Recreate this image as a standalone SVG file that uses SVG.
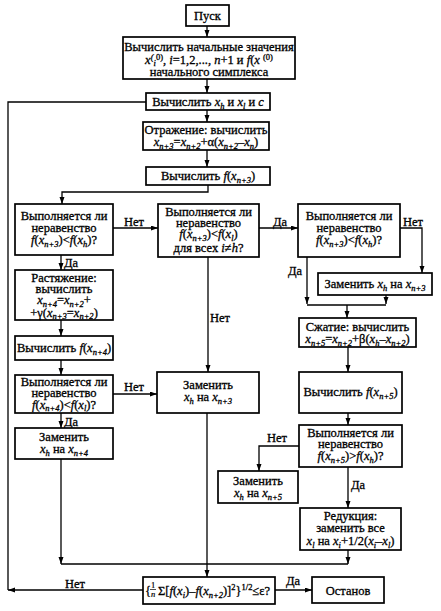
<svg xmlns="http://www.w3.org/2000/svg" width="441" height="611" viewBox="0 0 441 611" font-family="Liberation Serif, Times New Roman, serif">
<style>
.b{fill:#fff;stroke:#000;stroke-width:1.7}
.c{fill:none;stroke:#000;stroke-width:1.3}
.t{font-family:'Liberation Serif',serif;font-size:12.5px;text-anchor:middle;fill:#000;stroke:#000;stroke-width:0.3}
.l{font-family:'Liberation Serif',serif;font-size:12.5px;fill:#000;stroke:#000;stroke-width:0.3}
.i{font-style:italic}
.s{font-size:8.5px;font-style:italic}
.p{font-size:8.5px}
</style>
<defs>
<marker id="a" markerUnits="userSpaceOnUse" markerWidth="8" markerHeight="6" refX="7" refY="2.5" orient="auto">
<path d="M0,0 L7,2.5 L0,5 z" fill="#000"/>
</marker>
</defs>
<g id="connectors">
<path class="c" d="M207,26 V37" marker-end="url(#a)"/>
<path class="c" d="M207,79 V93" marker-end="url(#a)"/>
<path class="c" d="M207,110 V122" marker-end="url(#a)"/>
<path class="c" d="M207,150 V167" marker-end="url(#a)"/>
<path class="c" d="M208,185 V192 H62 V204" marker-end="url(#a)"/>
<path class="c" d="M113,228 H158" marker-end="url(#a)"/>
<path class="c" d="M259,228 H298" marker-end="url(#a)"/>
<path class="c" d="M400,228 H422 V273" marker-end="url(#a)"/>
<path class="c" d="M307,257 V304" marker-end="url(#a)"/>
<path class="c" d="M386,295 V304" marker-end="url(#a)"/>
<path class="c" d="M307,305 H386"/>
<path class="c" d="M347,305 V318" marker-end="url(#a)"/>
<path class="c" d="M348,347 V372" marker-end="url(#a)"/>
<path class="c" d="M348,413 V425" marker-end="url(#a)"/>
<path class="c" d="M299,446 H259 V471" marker-end="url(#a)"/>
<path class="c" d="M348,467 V508" marker-end="url(#a)"/>
<path class="c" d="M348,550 V564" marker-end="url(#a)"/>
<path class="c" d="M61,255 V270" marker-end="url(#a)"/>
<path class="c" d="M61,320 V336" marker-end="url(#a)"/>
<path class="c" d="M61,360 V375" marker-end="url(#a)"/>
<path class="c" d="M61,413 V428" marker-end="url(#a)"/>
<path class="c" d="M113,394 H157" marker-end="url(#a)"/>
<path class="c" d="M208,257 V372" marker-end="url(#a)"/>
<path class="c" d="M61,459 V564" marker-end="url(#a)"/>
<path class="c" d="M61,564 H348"/>
<path class="c" d="M207,413 V577" marker-end="url(#a)"/>
<path class="c" d="M275,590 H312" marker-end="url(#a)"/>
<path class="c" d="M143,590 H8" marker-end="url(#a)"/>
<path class="c" d="M8,590 V102 H146"/>
<text class="t" x="134" y="226">Нет</text>
<text class="t" x="280" y="226">Да</text>
<text class="t" x="413" y="226">Нет</text>
<text class="t" x="71" y="267">Да</text>
<text class="t" x="295" y="275">Да</text>
<text class="t" x="220" y="322">Нет</text>
<text class="t" x="134" y="391">Нет</text>
<text class="t" x="71" y="426">Да</text>
<text class="t" x="277" y="442">Нет</text>
<text class="t" x="358" y="489">Да</text>
<text class="t" x="75" y="588">Нет</text>
<text class="t" x="293" y="585">Да</text>
</g>
<g id="start">
<rect class="b" x="186" y="5" width="43" height="21"/>
<text class="t" x="207.5" y="20">Пуск</text>
</g>
<g id="init">
<rect class="b" x="123" y="37" width="172" height="42"/>
<text class="t" x="209" y="51">Вычислить начальные значения</text>
<text class="t" x="209" y="64"><tspan class="i">x</tspan><tspan class="s" dy="-4">(</tspan><tspan class="s" dy="6">i</tspan><tspan class="p" dy="-6">0)</tspan><tspan dy="4">, </tspan><tspan class="i">i</tspan>=1,2,..., <tspan class="i">n</tspan>+1 и <tspan class="i">f</tspan>(<tspan class="i">x</tspan> <tspan class="p" dy="-4">(0)</tspan></text>
<text class="t" x="209" y="76">начального симплекса</text>
</g>
<g id="calc-xh">
<rect class="b" x="146" y="93" width="124" height="17"/>
<text class="t" x="208" y="105.5">Вычислить <tspan class="i">x</tspan><tspan class="s" dy="3">h</tspan><tspan dy="-3"> и </tspan><tspan class="i">x</tspan><tspan class="s" dy="3">l</tspan><tspan dy="-3"> и </tspan><tspan class="i">c</tspan></text>
</g>
<g id="reflect">
<rect class="b" x="143" y="122" width="126" height="28"/>
<text class="t" x="206" y="134">Отражение: вычислить</text>
<text class="t" x="206" y="146"><tspan class="i">x</tspan><tspan class="s" dy="3">n+3</tspan><tspan dy="-3">=</tspan><tspan class="i">x</tspan><tspan class="s" dy="3">n+2</tspan><tspan dy="-3">+α(</tspan><tspan class="i">x</tspan><tspan class="s" dy="3">n+2</tspan><tspan dy="-3">–</tspan><tspan class="i">x</tspan><tspan class="s" dy="3">n</tspan><tspan dy="-3">)</tspan></text>
</g>
<g id="calc-f3">
<rect class="b" x="146" y="167" width="124" height="18"/>
<text class="t" x="208" y="180">Вычислить <tspan class="i">f</tspan>(<tspan class="i">x</tspan><tspan class="s" dy="3">n+3</tspan><tspan dy="-3">)</tspan></text>
</g>
<g id="dec-left">
<rect class="b" x="15" y="204" width="98" height="51"/>
<text class="t" x="64" y="220">Выполняется ли</text>
<text class="t" x="64" y="231.5">неравенство</text>
<text class="t" x="64" y="244"><tspan class="i">f</tspan>(<tspan class="i">x</tspan><tspan class="s" dy="3">n+3</tspan><tspan dy="-3">)&lt;</tspan><tspan class="i">f</tspan>(<tspan class="i">x</tspan><tspan class="s" dy="3">h</tspan><tspan dy="-3">)?</tspan></text>
</g>
<g id="dec-mid">
<rect class="b" x="158" y="204" width="101" height="53"/>
<text class="t" x="208.5" y="215.5">Выполняется ли</text>
<text class="t" x="208.5" y="226.5">неравенство</text>
<text class="t" x="208.5" y="238"><tspan class="i">f</tspan>(<tspan class="i">x</tspan><tspan class="s" dy="2.5">n+3</tspan><tspan dy="-2.5">)&lt;</tspan><tspan class="i">f</tspan>(<tspan class="i">x</tspan><tspan class="s" dy="2.5">l</tspan><tspan dy="-2.5">)</tspan></text>
<text class="t" x="208.5" y="251.5">для всех <tspan class="i">i</tspan>≠<tspan class="i">h</tspan>?</text>
</g>
<g id="dec-right">
<rect class="b" x="298" y="204" width="102" height="53"/>
<text class="t" x="349" y="220">Выполняется ли</text>
<text class="t" x="349" y="231.5">неравенство</text>
<text class="t" x="349" y="244"><tspan class="i">f</tspan>(<tspan class="i">x</tspan><tspan class="s" dy="3">n+3</tspan><tspan dy="-3">)&lt;</tspan><tspan class="i">f</tspan>(<tspan class="i">x</tspan><tspan class="s" dy="3">h</tspan><tspan dy="-3">)?</tspan></text>
</g>
<g id="replace-right">
<rect class="b" x="318" y="273" width="114" height="22"/>
<text class="t" x="375" y="288">Заменить <tspan class="i">x</tspan><tspan class="s" dy="3">h</tspan><tspan dy="-3"> на </tspan><tspan class="i">x</tspan><tspan class="s" dy="3">n+3</tspan></text>
</g>
<g id="contract">
<rect class="b" x="299" y="318" width="117" height="29"/>
<text class="t" x="357.5" y="331">Сжатие: вычислить</text>
<text class="t" x="357.5" y="343"><tspan class="i">x</tspan><tspan class="s" dy="3">n+5</tspan><tspan dy="-3">=</tspan><tspan class="i">x</tspan><tspan class="s" dy="3">n+2</tspan><tspan dy="-3">+β(</tspan><tspan class="i">x</tspan><tspan class="s" dy="3">h</tspan><tspan dy="-3">–</tspan><tspan class="i">x</tspan><tspan class="s" dy="3">n+2</tspan><tspan dy="-3">)</tspan></text>
</g>
<g id="calc-f5">
<rect class="b" x="299" y="372" width="103" height="41"/>
<text class="t" x="350.5" y="396">Вычислить <tspan class="i">f</tspan>(<tspan class="i">x</tspan><tspan class="s" dy="3">n+5</tspan><tspan dy="-3">)</tspan></text>
</g>
<g id="dec-f5">
<rect class="b" x="299" y="425" width="103" height="42"/>
<text class="t" x="350.5" y="437">Выполняется ли</text>
<text class="t" x="350.5" y="448">неравенство</text>
<text class="t" x="350.5" y="460"><tspan class="i">f</tspan>(<tspan class="i">x</tspan><tspan class="s" dy="3">n+5</tspan><tspan dy="-3">)&gt;</tspan><tspan class="i">f</tspan>(<tspan class="i">x</tspan><tspan class="s" dy="3">h</tspan><tspan dy="-3">)?</tspan></text>
</g>
<g id="replace-n5">
<rect class="b" x="218" y="471" width="80" height="32"/>
<text class="t" x="258" y="485">Заменить</text>
<text class="t" x="258" y="497"><tspan class="i">x</tspan><tspan class="s" dy="3">h</tspan><tspan dy="-3"> на </tspan><tspan class="i">x</tspan><tspan class="s" dy="3">n+5</tspan></text>
</g>
<g id="reduce">
<rect class="b" x="300" y="508" width="101" height="42"/>
<text class="t" x="350.5" y="519.5">Редукция:</text>
<text class="t" x="350.5" y="532">заменить все</text>
<text class="t" x="350.5" y="544.5"><tspan class="i">x</tspan><tspan class="s" dy="3">l</tspan><tspan dy="-3"> на </tspan><tspan class="i">x</tspan><tspan class="s" dy="3">i</tspan><tspan dy="-3">+1/2(</tspan><tspan class="i">x</tspan><tspan class="s" dy="3">i</tspan><tspan dy="-3">–</tspan><tspan class="i">x</tspan><tspan class="s" dy="3">l</tspan><tspan dy="-3">)</tspan></text>
</g>
<g id="expand">
<rect class="b" x="15" y="270" width="98" height="50"/>
<text class="t" x="64" y="281.5">Растяжение:</text>
<text class="t" x="64" y="292.5">вычислить</text>
<text class="t" x="64" y="304"><tspan class="i">x</tspan><tspan class="s" dy="2.5">n+4</tspan><tspan dy="-2.5">=</tspan><tspan class="i">x</tspan><tspan class="s" dy="2.5">n+2</tspan><tspan dy="-2.5">+</tspan></text>
<text class="t" x="64" y="316.5">+γ(<tspan class="i">x</tspan><tspan class="s" dy="2.5">n+3</tspan><tspan dy="-2.5">=</tspan><tspan class="i">x</tspan><tspan class="s" dy="2.5">n+2</tspan><tspan dy="-2.5">)</tspan></text>
</g>
<g id="calc-f4">
<rect class="b" x="15" y="336" width="98" height="24"/>
<text class="t" x="64" y="351.5">Вычислить <tspan class="i">f</tspan>(<tspan class="i">x</tspan><tspan class="s" dy="3">n+4</tspan><tspan dy="-3">)</tspan></text>
</g>
<g id="dec-f4">
<rect class="b" x="15" y="375" width="98" height="38"/>
<text class="t" x="64" y="386">Выполняется ли</text>
<text class="t" x="64" y="397">неравенство</text>
<text class="t" x="64" y="408.5"><tspan class="i">f</tspan>(<tspan class="i">x</tspan><tspan class="s" dy="2.5">n+4</tspan><tspan dy="-2.5">)&lt;</tspan><tspan class="i">f</tspan>(<tspan class="i">x</tspan><tspan class="s" dy="2.5">l</tspan><tspan dy="-2.5">)?</tspan></text>
</g>
<g id="replace-n4">
<rect class="b" x="15" y="428" width="98" height="31"/>
<text class="t" x="64" y="441">Заменить</text>
<text class="t" x="64" y="453"><tspan class="i">x</tspan><tspan class="s" dy="3">h</tspan><tspan dy="-3"> на </tspan><tspan class="i">x</tspan><tspan class="s" dy="3">n+4</tspan></text>
</g>
<g id="replace-mid">
<rect class="b" x="157" y="372" width="102" height="41"/>
<text class="t" x="208" y="389">Заменить</text>
<text class="t" x="208" y="401"><tspan class="i">x</tspan><tspan class="s" dy="3">h</tspan><tspan dy="-3"> на </tspan><tspan class="i">x</tspan><tspan class="s" dy="3">n+3</tspan></text>
</g>
<g id="check">
<rect class="b" x="143" y="577" width="132" height="27"/>
<text class="l" x="145" y="595">{</text>
<text class="t" x="153" y="588" style="font-size:8.5px;stroke-width:0.2">1</text>
<line x1="150" y1="589.5" x2="156" y2="589.5" stroke="#000" stroke-width="0.7"/>
<text class="t i" x="153" y="597" style="font-size:8.5px;stroke-width:0.2">n</text>
<text class="l" x="158" y="595">Σ[<tspan class="i">f</tspan>(<tspan class="i">x</tspan><tspan class="s" dy="3">i</tspan><tspan dy="-3">)–</tspan><tspan class="i">f</tspan>(<tspan class="i">x</tspan><tspan class="s" dy="3">n+2</tspan><tspan dy="-3">)]</tspan><tspan class="p" dy="-5">2</tspan><tspan dy="5">}</tspan><tspan class="p" dy="-5">1/2</tspan><tspan dy="5">≤ε?</tspan></text>
</g>
<g id="stop">
<rect class="b" x="312" y="577" width="72" height="26"/>
<text class="t" x="348" y="594.5">Останов</text>
</g>
</svg>
